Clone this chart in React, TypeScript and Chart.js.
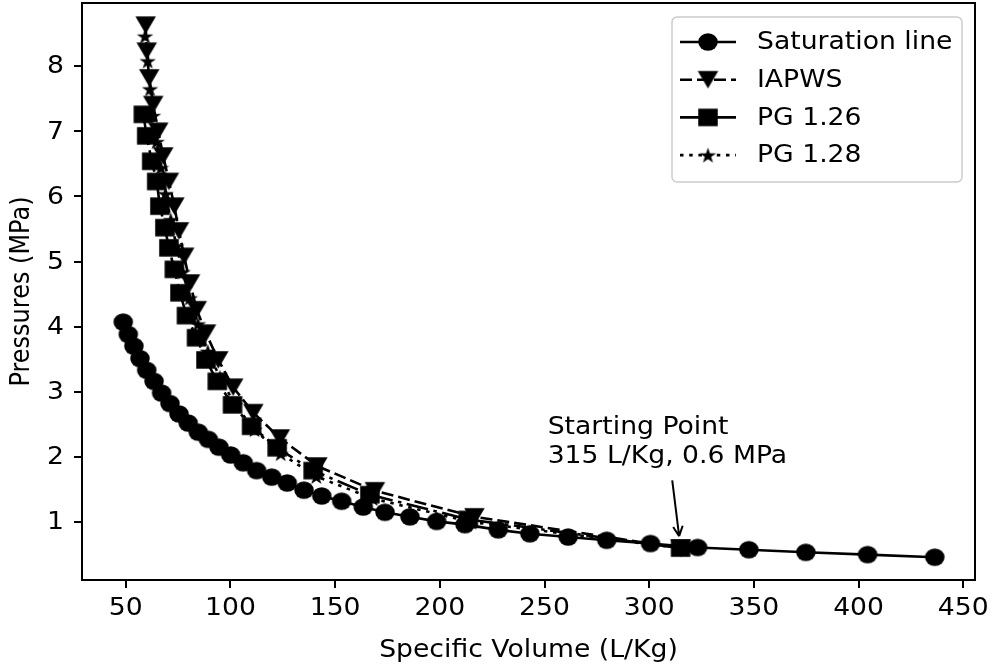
import React, { useEffect, useRef } from "react";
import { Chart, registerables } from "chart.js";

Chart.register(...registerables);

// Saturated steam: specific volume (L/Kg) and pressure (MPa)
const satVolume = [48.8, 51.2, 53.9, 56.8, 60.0, 63.5, 67.1, 71.1, 75.4, 79.8, 84.6, 89.4, 94.5, 100.1, 106.1, 112.5, 119.7, 127.1, 135.1, 143.6, 153.1, 163.4, 173.8, 185.7, 198.5, 212.0, 227.9, 243.0, 261.3, 279.7, 300.6, 323.1, 347.6, 374.8, 404.3, 436.4];
const satPressure = [4.07, 3.88, 3.70, 3.51, 3.33, 3.16, 2.98, 2.82, 2.66, 2.52, 2.38, 2.27, 2.15, 2.03, 1.91, 1.79, 1.69, 1.60, 1.49, 1.40, 1.32, 1.23, 1.15, 1.08, 1.01, 0.96, 0.88, 0.82, 0.77, 0.72, 0.67, 0.61, 0.575, 0.535, 0.50, 0.46];

// Compression path, IAPWS formulation
const iapwsVolume = [59.5, 60.0, 61.2, 63.1, 65.5, 67.9, 70.6, 73.2, 75.4, 77.9, 80.7, 83.9, 88.3, 94.2, 101.3, 110.9, 123.6, 141.5, 169.0, 216.5, 315.0];
const iapwsPressure = [8.63, 8.23, 7.82, 7.41, 7.00, 6.62, 6.23, 5.85, 5.47, 5.08, 4.67, 4.26, 3.90, 3.49, 3.07, 2.68, 2.29, 1.86, 1.48, 1.08, 0.6];

// Compression path, perfect gas with gamma = 1.26
const pg126Volume = [58.4, 60.0, 62.4, 64.8, 66.3, 68.7, 70.6, 73.2, 75.9, 79.0, 83.8, 88.3, 93.7, 101.0, 110.1, 122.3, 139.5, 166.6, 213.6, 315.0];
const pg126Pressure = [7.26, 6.93, 6.54, 6.23, 5.85, 5.52, 5.21, 4.88, 4.52, 4.17, 3.83, 3.49, 3.16, 2.80, 2.47, 2.14, 1.79, 1.42, 1.04, 0.6];

// Compression path, perfect gas with gamma = 1.28
const pg128Volume = [59.2, 60.5, 61.6, 63.0, 64.8, 66.8, 69.0, 71.5, 74.2, 77.2, 80.6, 84.5, 89.2, 95.0, 102.2, 111.5, 124.0, 141.0, 168.0, 215.0, 315.0];
const pg128Pressure = [8.46, 8.08, 7.65, 7.24, 6.84, 6.44, 6.04, 5.64, 5.24, 4.84, 4.44, 4.04, 3.62, 3.22, 2.80, 2.42, 2.05, 1.70, 1.36, 1.00, 0.6];

const seriesNames = ["Saturation line", "IAPWS", "PG 1.26", "PG 1.28"];

const xTickValues = [50, 100, 150, 200, 250, 300, 350, 400, 450];
const yTickValues = [1, 2, 3, 4, 5, 6, 7, 8];
const xRange = [29.1, 455.6];
const yRange = [0.11, 8.97];

const xTitle = "Specific Volume (L/Kg)";
const yTitle = "Pressures (MPa)";

// Annotation for the starting state
const startPoint = { v: 315, p: 0.6 };
const noteLines = ["Starting Point", "315 L/Kg, 0.6 MPa"];
const noteAnchor = { v: 251.5, p: 1.9 };
const arrowTail = { v: 311, p: 1.64 };

const FONT = "'DejaVu Sans', 'Liberation Sans', sans-serif";
const FONT_SIZE = 24;
const SX = 1.11; // glyphs are drawn slightly wide
const BLACK = "#000000";

type MarkerKind = "circle" | "square" | "tri_down" | "star";

// Marker sprites, a bit wider than tall
function makeMarker(kind: MarkerKind, w: number, h: number): HTMLCanvasElement {
  const cw = Math.ceil(w) + 2;
  const ch = Math.ceil(h) + 2;
  const c = document.createElement("canvas");
  c.width = cw;
  c.height = ch;
  const g = c.getContext("2d")!;
  const cx = cw / 2;
  const cy = ch / 2;
  g.fillStyle = BLACK;
  g.beginPath();
  if (kind === "circle") {
    g.ellipse(cx, cy, w / 2, h / 2, 0, 0, Math.PI * 2);
  } else if (kind === "square") {
    g.rect(cx - w / 2, cy - h / 2, w, h);
  } else if (kind === "tri_down") {
    g.moveTo(cx - w / 2, cy - h / 2);
    g.lineTo(cx + w / 2, cy - h / 2);
    g.lineTo(cx, cy + h / 2);
  } else {
    const R = h / 1.809;
    const oy = cy - h / 2 + R;
    for (let i = 0; i < 10; i++) {
      const a = -Math.PI / 2 + (i * Math.PI) / 5;
      const rr = i % 2 === 0 ? R : R * 0.382;
      g.lineTo(cx + rr * Math.cos(a) * (w / (1.902 * R)), oy + rr * Math.sin(a));
    }
  }
  g.closePath();
  g.fill();
  return c;
}

const toPoints = (xs: number[], ys: number[]) => xs.map((x, i) => ({ x, y: ys[i] }));

function stretchedText(
  ctx: CanvasRenderingContext2D,
  text: string,
  x: number,
  y: number,
  align: CanvasTextAlign,
  baseline: CanvasTextBaseline,
  rotate = 0
) {
  ctx.save();
  ctx.translate(x, y);
  ctx.scale(SX, 1);
  if (rotate) ctx.rotate(rotate);
  ctx.textAlign = align;
  ctx.textBaseline = baseline;
  ctx.fillText(text, 0, 0);
  ctx.restore();
}

const overlayPlugin = {
  id: "overlay",
  afterDraw(chart: any) {
    const { ctx, chartArea, scales } = chart;
    const xs = scales.x;
    const ys = scales.y;
    ctx.save();

    // axes frame
    ctx.strokeStyle = BLACK;
    ctx.lineWidth = 2;
    ctx.strokeRect(chartArea.left, chartArea.top, chartArea.right - chartArea.left, chartArea.bottom - chartArea.top);

    ctx.font = `${FONT_SIZE}px ${FONT}`;
    ctx.fillStyle = BLACK;

    // tick labels
    xTickValues.forEach((v) => {
      stretchedText(ctx, String(v), xs.getPixelForValue(v), chartArea.bottom + 29, "center", "middle");
    });
    yTickValues.forEach((v) => {
      stretchedText(ctx, String(v), chartArea.left - 18, ys.getPixelForValue(v) + 1, "right", "middle");
    });

    // axis titles
    stretchedText(ctx, xTitle, (chartArea.left + chartArea.right) / 2, chartArea.bottom + 71, "center", "middle");
    stretchedText(ctx, yTitle, 22, (chartArea.top + chartArea.bottom) / 2, "center", "middle", -Math.PI / 2);

    // annotation text
    const nx = xs.getPixelForValue(noteAnchor.v);
    const ny = ys.getPixelForValue(noteAnchor.p);
    const lineStep = 29;
    noteLines.forEach((t, i) => {
      stretchedText(ctx, t, nx, ny - (noteLines.length - 1 - i) * lineStep, "left", "alphabetic");
    });

    // annotation arrow
    const tx = xs.getPixelForValue(arrowTail.v);
    const ty = ys.getPixelForValue(arrowTail.p);
    const px = xs.getPixelForValue(startPoint.v);
    const py = ys.getPixelForValue(startPoint.p);
    const dx = px - tx;
    const dy = py - ty;
    const len = Math.hypot(dx, dy);
    const ux = dx / len;
    const uy = dy / len;
    const hx = px - ux * 12;
    const hy = py - uy * 12;
    ctx.strokeStyle = BLACK;
    ctx.lineWidth = 2;
    ctx.beginPath();
    ctx.moveTo(tx, ty);
    ctx.lineTo(hx, hy);
    const headLen = 11;
    const headAng = 0.45;
    for (const s of [-1, 1]) {
      const a = Math.atan2(-uy, -ux) + s * headAng;
      ctx.moveTo(hx, hy);
      ctx.lineTo(hx + headLen * Math.cos(a), hy + headLen * Math.sin(a));
    }
    ctx.stroke();

    // legend
    const boxLeft = chartArea.left + 590;
    const boxRight = chartArea.right - 13;
    const boxTop = chartArea.top + 14;
    const boxH = 165;
    const rowStep = 37.7;
    const handleX0 = boxLeft + 8;
    const handleLen = 56;
    const textX = boxLeft + 85;
    ctx.beginPath();
    const rr = 5;
    ctx.moveTo(boxLeft + rr, boxTop);
    ctx.arcTo(boxRight, boxTop, boxRight, boxTop + boxH, rr);
    ctx.arcTo(boxRight, boxTop + boxH, boxLeft, boxTop + boxH, rr);
    ctx.arcTo(boxLeft, boxTop + boxH, boxLeft, boxTop, rr);
    ctx.arcTo(boxLeft, boxTop, boxRight, boxTop, rr);
    ctx.closePath();
    ctx.fillStyle = "rgba(255,255,255,0.8)";
    ctx.fill();
    ctx.strokeStyle = "#cccccc";
    ctx.lineWidth = 1.5;
    ctx.stroke();

    chart.data.datasets.forEach((ds: any, i: number) => {
      const cy = boxTop + 25 + i * rowStep;
      const x1 = handleX0 + handleLen;
      const mx = (handleX0 + x1) / 2;
      ctx.strokeStyle = BLACK;
      ctx.lineWidth = ds.borderWidth;
      ctx.setLineDash(ds.borderDash || []);
      ctx.beginPath();
      ctx.moveTo(handleX0, cy);
      ctx.lineTo(x1, cy);
      ctx.stroke();
      ctx.setLineDash([]);
      const img = ds.pointStyle as HTMLCanvasElement;
      ctx.drawImage(img, mx - img.width / 2, cy - img.height / 2);
      ctx.fillStyle = BLACK;
      stretchedText(ctx, ds.label, textX, cy + 1, "left", "middle");
    });

    ctx.restore();
  },
};

export default function App() {
  const canvasRef = useRef<HTMLCanvasElement | null>(null);

  useEffect(() => {
    document.body.style.margin = "0";
    const canvas = canvasRef.current;
    if (!canvas) return;

    const circle = makeMarker("circle", 19.5, 17.5);
    const triangle = makeMarker("tri_down", 20.5, 17.5);
    const square = makeMarker("square", 19.5, 17.5);
    const star = makeMarker("star", 16.5, 15);

    const common = {
      showLine: true,
      borderColor: BLACK,
      borderWidth: 2.6,
      tension: 0,
      pointRadius: 10,
      pointHoverRadius: 10,
    };

    const chart = new Chart(canvas, {
      type: "scatter",
      data: {
        datasets: [
          { ...common, label: seriesNames[0], data: toPoints(satVolume, satPressure), pointStyle: circle, order: 4 },
          { ...common, label: seriesNames[1], data: toPoints(iapwsVolume, iapwsPressure), borderDash: [12, 5], pointStyle: triangle, order: 3 },
          { ...common, label: seriesNames[2], data: toPoints(pg126Volume, pg126Pressure), borderDash: [22, 5.5, 3.5, 5.5], pointStyle: square, order: 2 },
          { ...common, label: seriesNames[3], data: toPoints(pg128Volume, pg128Pressure), borderDash: [3.5, 5.7], pointStyle: star, order: 1 },
        ] as any,
      },
      options: {
        responsive: false,
        animation: false,
        events: [],
        layout: { autoPadding: false, padding: { top: 3, right: 17, left: 0, bottom: 0 } },
        plugins: { legend: { display: false }, tooltip: { enabled: false } },
        scales: {
          x: {
            type: "linear",
            min: xRange[0],
            max: xRange[1],
            afterBuildTicks: (s: any) => {
              s.ticks = xTickValues.map((v) => ({ value: v }));
            },
            afterFit: (s: any) => {
              s.height = 89;
              s.paddingLeft = 0;
              s.paddingRight = 0;
            },
            ticks: { display: false },
            grid: { drawOnChartArea: false, drawTicks: true, tickLength: 8, color: BLACK, lineWidth: 2 },
            border: { display: false },
          },
          y: {
            type: "linear",
            min: yRange[0],
            max: yRange[1],
            afterBuildTicks: (s: any) => {
              s.ticks = yTickValues.map((v) => ({ value: v }));
            },
            afterFit: (s: any) => {
              s.width = 82;
              s.paddingTop = 0;
              s.paddingBottom = 0;
            },
            ticks: { display: false },
            grid: { drawOnChartArea: false, drawTicks: true, tickLength: 8, color: BLACK, lineWidth: 2 },
            border: { display: false },
          },
        },
      },
      plugins: [overlayPlugin],
    });

    return () => chart.destroy();
  }, []);

  return (
    <div style={{ width: 992, height: 669, background: "#ffffff" }}>
      <canvas ref={canvasRef} width={992} height={669} style={{ display: "block" }} />
    </div>
  );
}
